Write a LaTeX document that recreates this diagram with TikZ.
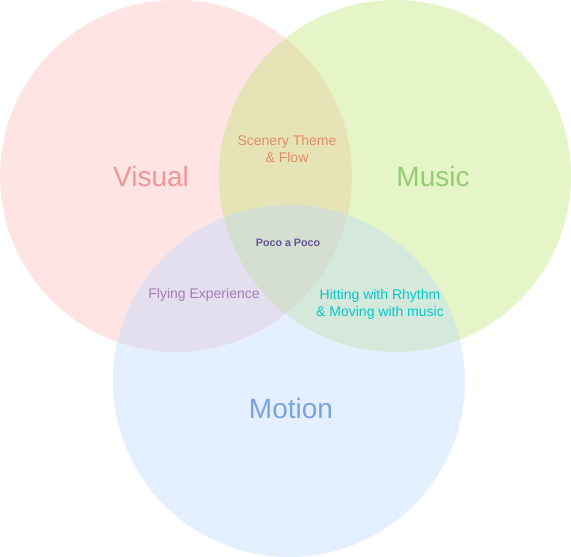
\documentclass[tikz,border=0pt]{standalone}
\usepackage{fontspec}
\setmainfont{Liberation Sans}
\usepackage{tikz}

\definecolor{visualfill}{RGB}{255,182,182}
\definecolor{musicfill}{RGB}{187,228,106}
\definecolor{motionfill}{RGB}{182,214,255}
\definecolor{visualtext}{RGB}{241,150,150}
\definecolor{musictext}{RGB}{146,206,112}
\definecolor{motiontext}{RGB}{122,163,224}
\definecolor{scenerytext}{RGB}{224,140,100}
\definecolor{pocotext}{RGB}{104,84,150}
\definecolor{flyingtext}{RGB}{166,124,186}
\definecolor{hittingtext}{RGB}{0,200,200}

\begin{document}
\begin{tikzpicture}[
    x=1pt, y=-1pt,
    set/.style={fill opacity=0.37, draw=none},
    big/.style={font=\fontsize{28}{32}\selectfont},
    small/.style={font=\fontsize{14}{17}\selectfont, align=center}
]
\useasboundingbox (0,0) rectangle (571,557);

% Cerchi
\fill[set, visualfill] (176,176) circle (176);
\fill[set, musicfill] (395,176) circle (176);
\fill[set, motionfill] (289,381) circle (176);

% Etichette principali
\node[big, text=visualtext] (visual) at (151,176) {Visual};
\node[big, text=musictext] (music) at (433,176) {Music};
\node[big, text=motiontext] (motion) at (291,408) {Motion};

% Intersezioni
\node[small, text=scenerytext] (scenery) at (287,149) {Scenery Theme\\\& Flow};
\node[font=\fontsize{10.7}{12}\selectfont\bfseries, text=pocotext] (poco) at (288,243) {Poco a Poco};
\node[small, text=flyingtext] (flying) at (204,295) {Flying Experience};
\node[small, text=hittingtext] (hitting) at (380,304) {Hitting with Rhythm\\\& Moving with music};

\end{tikzpicture}
\end{document}
